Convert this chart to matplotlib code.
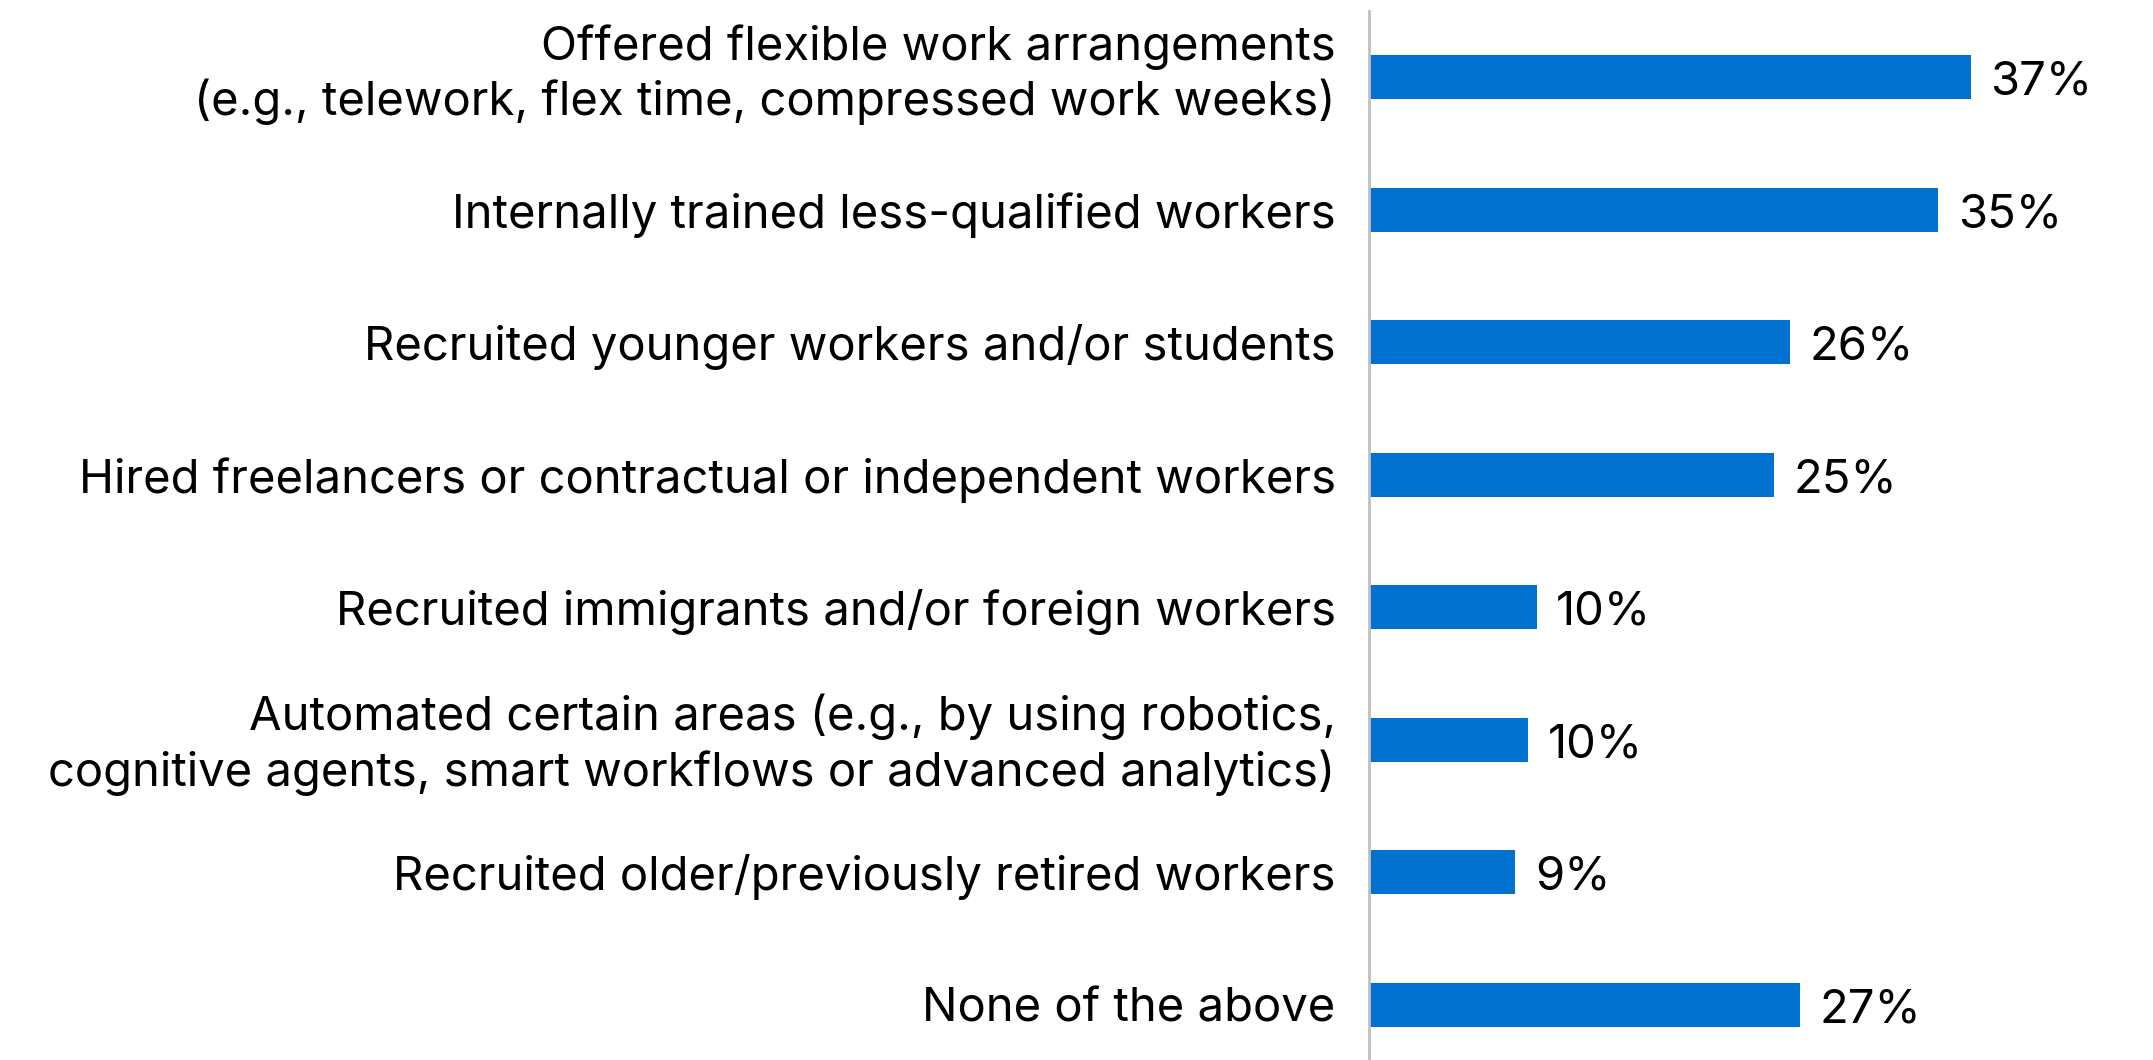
import numpy as np
from matplotlib import pyplot as plt
from matplotlib import transforms
plt.rcParams["font.family"] = ["Inter", "DejaVu Sans"]

categories = [
    "Offered flexible work arrangements\n(e.g., telework, flex time, compressed work weeks)",
    "Internally trained less-qualified workers",
    "Recruited younger workers and/or students",
    "Hired freelancers or contractual or independent workers",
    "Recruited immigrants and/or foreign workers",
    "Automated certain areas (e.g., by using robotics,\ncognitive agents, smart workflows or advanced analytics)",
    "Recruited older/previously retired workers",
    "None of the above",
]
# bar lengths (labels are rounded)
values = [37.0, 35.0, 25.9, 24.9, 10.3, 9.8, 9.0, 26.5]
value_labels = ["37%", "35%", "26%", "25%", "10%", "10%", "9%", "27%"]

fig = plt.figure(figsize=(21.53, 10.60), dpi=100)
ax = fig.add_axes([1369/2153, 0, 1 - 1369/2153, 1 - 11/1060])

y = np.arange(len(values))
ax.barh(y, values, height=0.332, color='#0071CE')
ax.set_ylim(7.415, -0.5)
ax.set_xlim(0, 48.2)

for yi, v, lab in zip(y, values, value_labels):
    ax.text(v + 1.2, yi + 0.04, lab, va='center', ha='left', fontsize=34, color='black')

ax.set_yticks(y)
ax.set_yticklabels(categories, fontsize=34, ha='right', linespacing=1.25)
ax.tick_params(axis='y', length=0, pad=24)
ax.set_xticks([])

# nudge the two-line labels up a little
shifts = {0: 0.12, 5: 0.05}
for i, t in enumerate(ax.get_yticklabels()):
    if i in shifts:
        t.set_transform(t.get_transform() + transforms.ScaledTranslation(0, shifts[i], fig.dpi_scale_trans))

for s in ['top', 'right', 'bottom']:
    ax.spines[s].set_visible(False)
ax.spines['left'].set_color('#BFBFBF')
ax.spines['left'].set_linewidth(2)

plt.savefig('out.png', dpi=100)
